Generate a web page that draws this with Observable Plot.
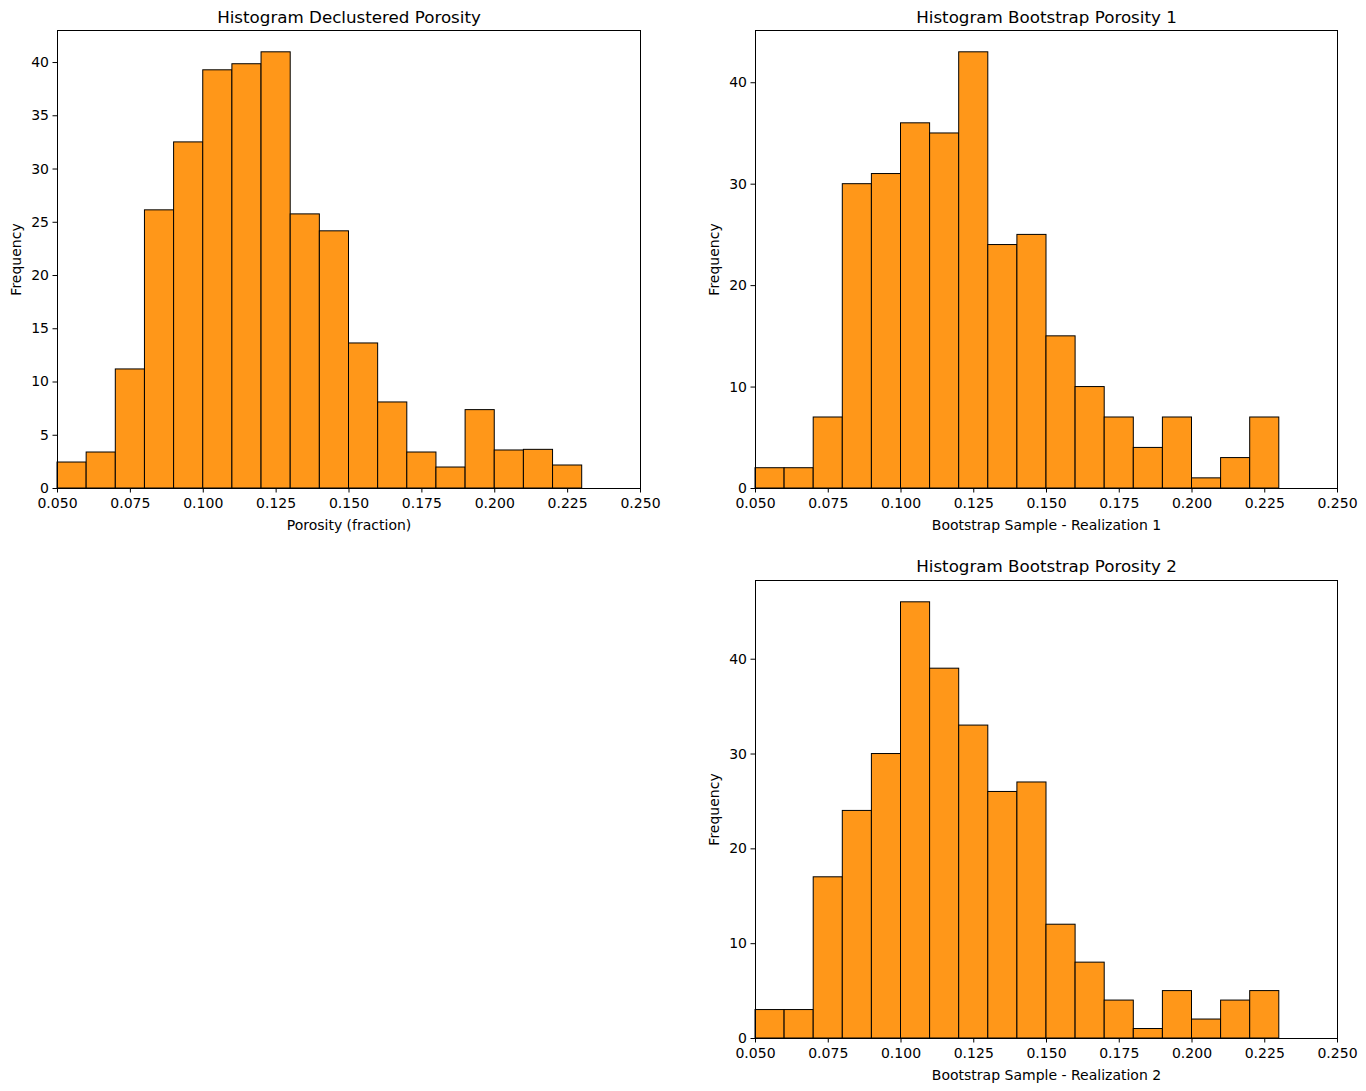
<!DOCTYPE html>
<html>
<head>
<meta charset="utf-8">
<script src="https://cdn.jsdelivr.net/npm/d3@7"></script>
<script src="https://cdn.jsdelivr.net/npm/@observablehq/plot@0.6"></script>
<style>
  body { margin: 0; background: #fff; }
  #wrap { position: relative; width: 1366px; height: 1091px; background: #fff; font-family: "DejaVu Sans", sans-serif; }
  #wrap > svg { position: absolute; }
</style>
</head>
<body>
<div id="wrap"></div>
<script>
// Bin edges (lower edges); each bin is 0.01 wide
const binLo = [0.05,0.06,0.07,0.08,0.09,0.10,0.11,0.12,0.13,0.14,0.15,0.16,0.17,0.18,0.19,0.20,0.21,0.22];
const binWidth = 0.01;

// Declustered (weighted) frequencies
const declustered = [2.44,3.38,11.18,26.12,32.5,39.27,39.84,40.96,25.74,24.15,13.62,8.08,3.38,1.97,7.36,3.57,3.63,2.16];
// Bootstrap realization 1 counts
const boot1 = [2,2,7,30,31,36,35,43,24,25,15,10,7,4,7,1,3,7];
// Bootstrap realization 2 counts
const boot2 = [3,3,17,24,30,46,39,33,26,27,12,8,4,1,5,2,4,5];

const xTicks = [0.05,0.075,0.1,0.125,0.15,0.175,0.2,0.225,0.25];
const yTicks1 = [0,5,10,15,20,25,30,35,40];
const yTicks2 = [0,10,20,30,40];
const yTicks3 = [0,10,20,30,40];

const titles = ["Histogram Declustered Porosity","Histogram Bootstrap Porosity 1","Histogram Bootstrap Porosity 2"];
const xLabels = ["Porosity (fraction)","Bootstrap Sample - Realization 1","Bootstrap Sample - Realization 2"];

const fill = "#ff9719";

function panel({values, yTicks, title, xLabel, left, top, width, height, margins, titleDy}) {
  const rows = binLo.map((lo, i) => ({x1: lo, x2: lo + binWidth, y: values[i]}));
  const ymax = d3.max(values) * 1.05;
  const chart = Plot.plot({
    width, height,
    marginLeft: margins[0], marginRight: margins[1], marginTop: margins[2], marginBottom: margins[3],
    style: {fontFamily: "DejaVu Sans, sans-serif", fontSize: "14px", color: "#000", background: "#fff", overflow: "visible"},
    x: {domain: [0.05, 0.25]},
    y: {domain: [0, ymax]},
    marks: [
      Plot.rectY(rows, {x1: "x1", x2: "x2", y: "y", fill, stroke: "#000", strokeWidth: 1, inset: 0}),
      Plot.frame({stroke: "#000", strokeWidth: 1}),
      Plot.axisX({ticks: xTicks, tickFormat: d3.format(".3f"), tickSize: 4.5, tickPadding: 5, label: xLabel, labelAnchor: "center", labelArrow: "none", labelOffset: 41, fontSize: 14}),
      Plot.axisY({ticks: yTicks, tickSize: 4.5, tickPadding: 4, label: "Frequency", labelAnchor: "center", labelArrow: "none", labelOffset: 46, fontSize: 14}),
      Plot.text([title], {frameAnchor: "top", dy: titleDy, lineAnchor: "middle", text: d => d, fontSize: 16.7, fill: "#000"})
    ]
  });
  chart.style.left = left + "px";
  chart.style.top = top + "px";
  document.getElementById("wrap").appendChild(chart);
}

panel({values: declustered, yTicks: yTicks1, title: titles[0], xLabel: xLabels[0], left: 0, top: 0, width: 683, height: 538, margins: [57, 43, 30, 50], titleDy: -13});
panel({values: boot1, yTicks: yTicks2, title: titles[1], xLabel: xLabels[1], left: 683, top: 0, width: 683, height: 538, margins: [72, 29, 30, 50], titleDy: -13});
panel({values: boot2, yTicks: yTicks3, title: titles[2], xLabel: xLabels[2], left: 683, top: 538, width: 683, height: 553, margins: [72, 29, 42, 53], titleDy: -14});
</script>
</body>
</html>
